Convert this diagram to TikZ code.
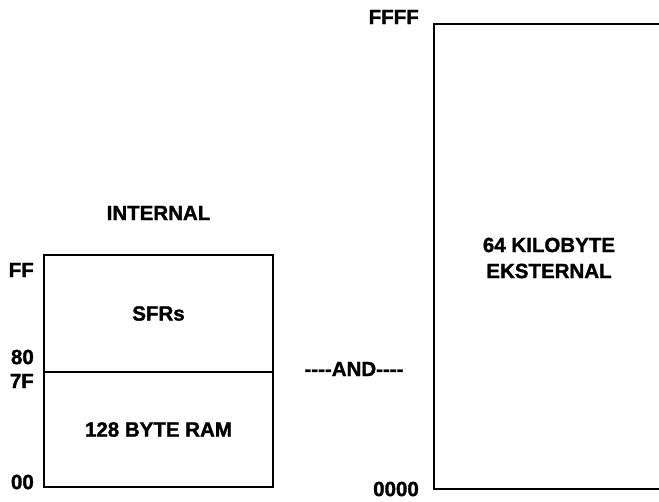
\documentclass[tikz,border=0pt]{standalone}
\usepackage{fontspec}
\setmainfont{Liberation Sans}[BoldFeatures={FakeBold=1.5}]
\begin{document}
\begin{tikzpicture}[x=1pt,y=-1pt,
  lbl/.style={font=\fontsize{20.5}{26}\selectfont\bfseries, inner sep=0pt},
  addr/.style={lbl, anchor=east},
  membox/.style={draw, line width=2pt, minimum width=229pt, inner sep=0pt, lbl},
  edge/.style={line width=2pt}]
\useasboundingbox (0,0) rectangle (659,501);
\clip (0,0) rectangle (659,501);
% internal memory
\node[lbl] (internal) at (158.5,213) {INTERNAL};
\node[membox, minimum height=117pt] (sfr) at (158.5,313.5) {SFRs};
\node[membox, minimum height=115pt] (ram) at (158.5,429.5) {128 BYTE RAM};
\node[addr] (aFF) at (34,270) {FF};
\node[addr] (a80) at (34,357) {80};
\node[addr] (a7F) at (34,381) {7F};
\node[addr] (a00) at (34,482) {00};
% and
\node[lbl] (and) at (354,369) {-{}-{}-{}-AND-{}-{}-{}-};
% external memory
\coordinate (tl) at (434,24);
\coordinate (bl) at (434,489);
\coordinate (tr) at (670,24);
\coordinate (br) at (670,489);
\draw[edge] (tr) -- (tl) -- (bl) -- (br);
\node[lbl, align=center] (ext) at (549,258) {64 KILOBYTE\\EKSTERNAL};
\node[addr] (aFFFF) at (419,17) {FFFF};
\node[addr] (a0000) at (419,489) {0000};
\end{tikzpicture}
\end{document}
